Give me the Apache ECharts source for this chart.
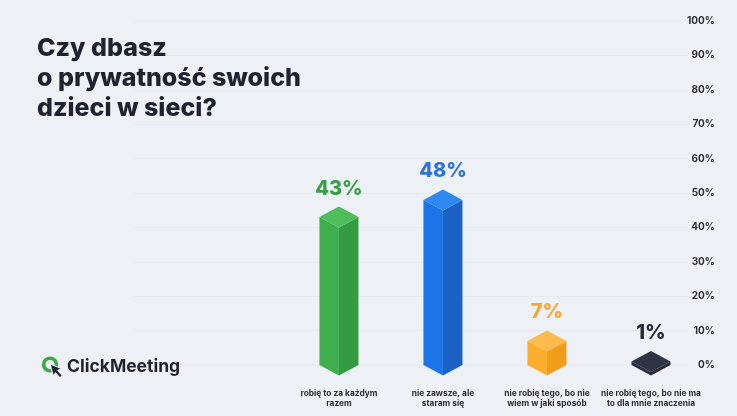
<!DOCTYPE html>
<html><head><meta charset="utf-8">
<script src="https://cdn.jsdelivr.net/npm/echarts@6/dist/echarts.min.js"></script>
<style>html,body{margin:0;padding:0;background:#edf0f4}#c{width:737px;height:416px}</style>
</head><body><div id="c"></div>
<script>
const categories = ['robię to za każdym\nrazem', 'nie zawsze, ale\nstaram się', 'nie robię tego, bo nie\nwiem w jaki sposób', 'nie robię tego, bo nie ma\nto dla mnie znaczenia'];
const values = [43, 48, 7, 1];
const valueLabels = ['43%', '48%', '7%', '1%'];
const yTicks = [0, 10, 20, 30, 40, 50, 60, 70, 80, 90, 100];
const titleText = 'Czy dbasz\no prywatność swoich\ndzieci w sieci?';

const palettes = [
  {left:'#3fae4c', right:'#339c40', top:'#50bd5d', label:'#3a9e48'},
  {left:'#1d74e6', right:'#1c62c4', top:'#3089f0', label:'#2f73d6'},
  {left:'#fcad2e', right:'#f09d1c', top:'#fdbb4d', label:'#f5a733'},
  {left:'#2b3140', right:'#252a37', top:'#2e3443', label:'#262b36'}
];
const F = 'Inter, "Noto Sans", sans-serif';
const chart = echarts.init(document.getElementById('c'));
chart.setOption({
  backgroundColor: '#edf0f4',
  animation: false,
  grid: {left: 133, right: 49, top: 21, bottom: 51},
  xAxis: {type: 'value', min: -1.98, max: 3.356, show: false},
  yAxis: {
    type: 'value', position: 'right', min: 0, max: 100, interval: 10,
    axisLine: {show: false}, axisTick: {show: false},
    splitLine: {lineStyle: {color: '#e7eaef', width: 1}},
    axisLabel: {align: 'right', margin: 27, fontFamily: F, fontWeight: 700, fontSize: 10, color: '#2a2f3a',
      formatter: v => yTicks.includes(v) ? v + '%' : ''}
  },
  graphic: [
    {type: 'text', z: 100, left: 37, top: 33, style: {text: titleText, font: '800 25px ' + F, fill: '#1e2330', lineHeight: 30}},
    {type: 'circle', z: 100, shape: {cx: 50, cy: 364.5, r: 6.3}, style: {fill: '#edf0f4', stroke: '#3aaa48', lineWidth: 3.6}},
    {type: 'polygon', z: 101, shape: {points: [[50,364],[61.5,368.5],[58,370.5],[62.5,375.5],[60,378],[55.5,373],[53.5,376.5]]}, style: {fill: '#1e2330', stroke: '#edf0f4', lineWidth: 1.2}},
    {type: 'rect', z: 99, shape: {x: 64, y: 358, width: 116, height: 22}, style: {fill: '#edf0f4'}},
    {type: 'text', z: 100, left: 67, top: 357.5, style: {text: 'ClickMeeting', font: '700 17.5px ' + F, fill: '#1e2330'}}
  ],
  series: [{
    type: 'custom',
    data: values.map((v, i) => [i, v]),
    renderItem: function (params, api) {
      const i = api.value(0), v = api.value(1);
      const base = api.coord([i, 0]);
      const top = api.coord([i, v]);
      const hw = 19.5, hh = 10.5;
      const cx = base[0], yb = base[1], yt = top[1];
      const p = palettes[i];
      return {type: 'group', children: [
        {type: 'polygon', shape: {points: [[cx-hw, yt], [cx, yt+hh], [cx, yb+hh], [cx-hw, yb]]}, style: {fill: p.left}},
        {type: 'polygon', shape: {points: [[cx, yt+hh], [cx+hw, yt], [cx+hw, yb], [cx, yb+hh]]}, style: {fill: p.right}},
        {type: 'polygon', shape: {points: [[cx, yt-hh], [cx+hw, yt], [cx, yt+hh], [cx-hw, yt]]}, style: {fill: p.top}},
        {type: 'text', style: {x: cx, y: yt-hh-8, text: valueLabels[i], align: 'center', verticalAlign: 'bottom', font: '800 20px ' + F, fill: p.label}},
        {type: 'text', style: {x: cx, y: yb+23, text: categories[i], align: 'center', verticalAlign: 'top', font: '700 8.4px ' + F, fill: '#2a2f3a', lineHeight: 10.5}}
      ]};
    }
  }]
});
</script></body></html>
